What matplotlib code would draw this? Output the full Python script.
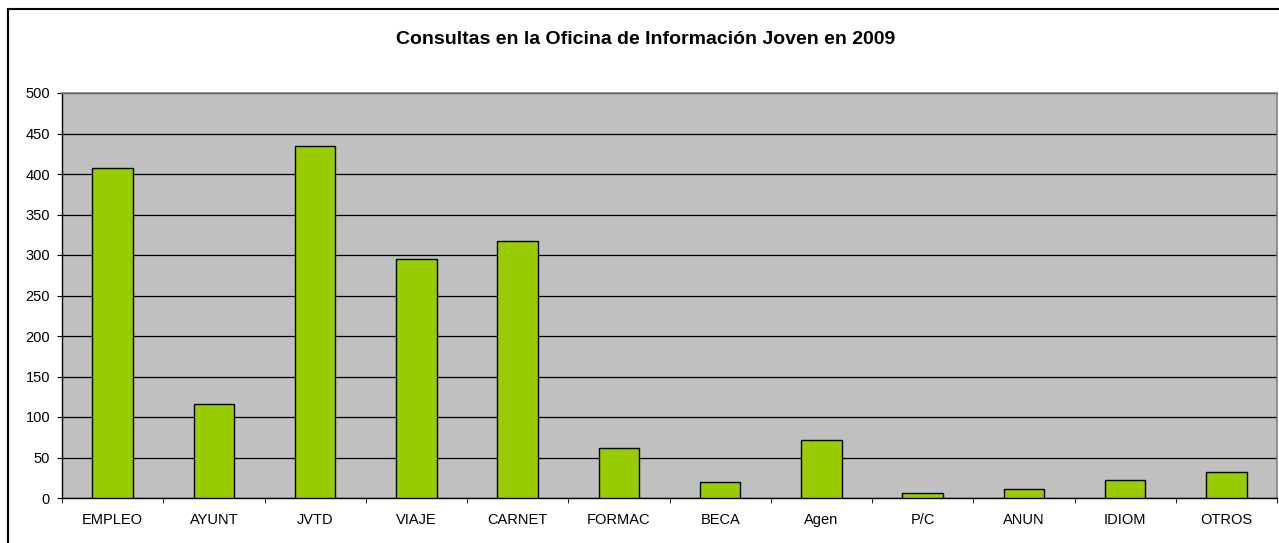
import matplotlib
matplotlib.use("Agg")
import matplotlib.pyplot as plt
from matplotlib.patches import Rectangle
import numpy as np

categories = ["EMPLEO", "AYUNT", "JVTD", "VIAJE", "CARNET", "FORMAC", "BECA",
              "Agen", "P/C", "ANUN", "IDIOM", "OTROS"]
values = [407, 116, 434, 295, 317, 62, 20, 71, 6, 11, 22, 32]
yticks = [0, 50, 100, 150, 200, 250, 300, 350, 400, 450, 500]
title = "Consultas en la Oficina de Información Joven en 2009"

plt.rcParams['font.family'] = ['Liberation Sans', 'DejaVu Sans']

W, H = 1279, 543
fig = plt.figure(figsize=(W / 100, H / 100), dpi=100)
fig.patch.set_facecolor("white")

# outer chart border (cropped on right/bottom)
fig.patches.append(Rectangle((8 / W, -0.05), 1.2, 1 - 9 / H + 0.05,
                             transform=fig.transFigure, fill=False,
                             edgecolor="black", linewidth=1.5))

ax = fig.add_axes([62 / W, 45 / H, (1277 - 62) / W, (498 - 93) / H])
ax.set_facecolor("#C0C0C0")

x = np.arange(len(categories))
ax.set_axisbelow(True)
ax.yaxis.grid(True, color="black", linewidth=0.9)
ax.bar(x, values, width=0.4, color="#99CC00", edgecolor="black",
       linewidth=1.0, zorder=3)

ax.set_xlim(-0.5, len(categories) - 0.5)
ax.set_ylim(0, 500)
ax.set_yticks(yticks)
ax.set_yticklabels([str(v) for v in yticks], fontsize=10.5)
ax.set_xticks(x)
ax.set_xticklabels(categories, fontsize=10.5)
ax.set_xticks(np.arange(-0.5, len(categories), 1), minor=True)
ax.tick_params(axis="x", which="major", length=0, pad=11)
ax.tick_params(axis="x", which="minor", length=3.6, color="black", direction="out")
ax.tick_params(axis="y", length=3.6, color="black", direction="out", pad=5)

for s in ["top", "right"]:
    ax.spines[s].set_color("#808080")
    ax.spines[s].set_linewidth(1.2)
ax.spines["left"].set_color("black")
ax.spines["bottom"].set_color("black")
ax.spines["left"].set_linewidth(1.0)
ax.spines["bottom"].set_linewidth(1.0)

fig.text(646 / W, 1 - 40 / H, title, ha="center", va="center",
         fontsize=14, fontweight="bold")

fig.savefig("out.png", dpi=100)
